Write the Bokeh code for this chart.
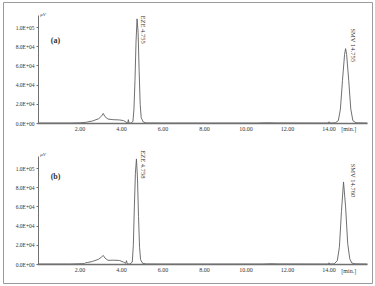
import math
from bokeh.plotting import figure
from bokeh.models import (Range1d, LinearAxis, FixedTicker, NumeralTickFormatter,
                          Label, ColumnDataSource)
from bokeh.core.properties import value
from bokeh.embed import file_html
from bokeh.resources import INLINE

# ---------------- data ----------------
time_a = [0.0, 1.5, 2.0, 2.3, 2.6, 2.9, 3.05, 3.12, 3.2, 3.35, 3.6, 3.9, 4.1, 4.22,
          4.3, 4.33, 4.36, 4.45, 4.55, 4.6, 4.65, 4.7, 4.75, 4.8, 4.85, 4.9, 4.95,
          5.05, 5.2, 6.0, 10.5, 11.0, 11.5, 13.95, 14.0, 14.05, 14.3, 14.45, 14.55,
          14.65, 14.75, 14.8, 14.85, 14.95, 15.05, 15.15, 15.3, 15.85]
signal_a = [500, 500, 700, 1300, 2600, 5000, 8000, 10500, 7200, 4600, 4000, 3700, 3000, 1400,
            400, 4000, 400, 400, 2000, 15000, 45000, 85000, 109000, 95000, 55000, 20000, 6000,
            1500, 600, 500, 500, 800, 600, 500, 1800, 500, 700, 3000, 15000,
            45000, 72000, 78000, 72000, 45000, 15000, 3000, 700, 500]

time_b = [0.0, 1.5, 2.22, 2.27, 2.35, 2.6, 2.9, 3.05, 3.12, 3.2, 3.35, 3.6, 3.9, 4.1,
          4.2, 4.24, 4.28, 4.4, 4.52, 4.57, 4.62, 4.67, 4.72, 4.77, 4.82, 4.87, 4.92,
          5.02, 5.2, 6.0, 10.8, 11.2, 11.6, 13.95, 14.0, 14.05, 14.25, 14.4, 14.5,
          14.6, 14.7, 14.8, 14.9, 15.0, 15.1, 15.25, 15.85]
signal_b = [500, 500, 900, 1800, 2000, 3200, 5500, 8000, 9500, 6800, 4300, 4500, 4200, 2500,
            1200, 4000, 600, 500, 2500, 20000, 60000, 95000, 110000, 90000, 50000, 18000, 5000,
            1200, 600, 500, 500, 800, 600, 500, 1800, 500, 700, 4000, 18000,
            55000, 86000, 60000, 22000, 6000, 1500, 700, 500]

x_ticks = [2, 4, 6, 8, 10, 12, 14]
y_ticks = [0, 20000, 40000, 60000, 80000, 100000]
y_tick_labels = ["0.0E+00", "2.0E+04", "4.0E+04", "6.0E+04", "8.0E+04", "1.0E+05"]

peak_labels_a = ["EZE 4.755", "SMV 14.755"]
peak_times_a = [5.06, 15.18]
peak_tops_a = [112500, 99000]
peak_labels_b = ["EZE 4.758", "SMV 14.760"]
peak_times_b = [5.06, 15.18]
peak_tops_b = [119000, 105000]

FONT = "Liberation Serif"
LINE = "#606060"
AX = "#707070"
TXT = "#333333"

# ---------------- figure ----------------
px_per_min = 20.75
x0 = -(38 - 3) / px_per_min
x1 = x0 + 369 / px_per_min
px_per_unit = 96 / 100000.0
ya = Range1d((123 - 283) / px_per_unit, (123 - 2) / px_per_unit)
yb = Range1d((264 - 283) / px_per_unit, (264 - 2) / px_per_unit)

p = figure(width=375, height=286, output_backend="svg", toolbar_location=None,
           x_range=Range1d(x0, x1), y_range=ya,
           x_axis_location=None, y_axis_location=None,
           min_border_left=3, min_border_right=3, min_border_top=2, min_border_bottom=3,
           background_fill_color="white", border_fill_color="white")
p.extra_y_ranges = {"b": yb}
p.outline_line_color = "#9a9a9a"
p.outline_line_width = 1
p.grid.visible = False


def add_axes(rname):
    kw = {} if rname is None else {"y_range_name": rname}
    xa = LinearAxis(fixed_location=0, ticker=FixedTicker(ticks=x_ticks),
                    formatter=NumeralTickFormatter(format="0.00"), bounds=(-0.05, 15.85), **kw)
    xa.axis_line_color = AX
    xa.axis_line_width = 1.5
    xa.major_tick_line_color = AX
    xa.major_tick_in = 0
    xa.major_tick_out = 0
    xa.minor_tick_line_color = None
    xa.major_label_standoff = 3
    xa.major_label_text_font = FONT
    xa.major_label_text_font_size = "6px"
    xa.major_label_text_color = TXT
    p.add_layout(xa, "below")

    ya_ = LinearAxis(fixed_location=0, ticker=FixedTicker(ticks=y_ticks),
                     bounds=(0, 112500), **kw)
    ya_.major_label_overrides = {t: s for t, s in zip(y_ticks, y_tick_labels)}
    ya_.axis_line_color = AX
    ya_.axis_line_width = 1
    ya_.major_tick_line_color = AX
    ya_.major_tick_in = 0
    ya_.major_tick_out = 2
    ya_.minor_tick_line_color = None
    ya_.major_label_standoff = 2
    ya_.major_label_text_font = FONT
    ya_.major_label_text_font_size = "5.5px"
    ya_.major_label_text_color = TXT
    p.add_layout(ya_, "left")


add_axes(None)
add_axes("b")

p.line(time_a, signal_a, line_color=LINE, line_width=0.9)
p.line(time_b, signal_b, line_color=LINE, line_width=0.9, y_range_name="b")

src_a = ColumnDataSource(dict(x=peak_times_a, y=peak_tops_a, t=peak_labels_a))
src_b = ColumnDataSource(dict(x=peak_times_b, y=peak_tops_b, t=peak_labels_b))
for src, rn in ((src_a, "default"), (src_b, "b")):
    p.text("x", "y", text="t", source=src, angle=-math.pi / 2, text_align="left",
           text_baseline="middle", text_font=value(FONT), text_font_size="6.5px",
           text_color=TXT, y_range_name=rn)

for txt, y, rn in (("(a)", 86500, "default"), ("(b)", 91700, "b")):
    p.add_layout(Label(x=0.82, y=y, text=txt, y_range_name=rn, text_align="center",
                       text_baseline="middle", text_font=FONT, text_font_size="8px",
                       text_font_style="bold", text_color=TXT))
for y, rn in ((113500, "default"), (114600, "b")):
    p.add_layout(Label(x=0.08, y=y, text="μV", y_range_name=rn, text_align="left",
                       text_baseline="middle", text_font=FONT, text_font_size="5px",
                       text_font_style="italic", text_color=TXT))
for y, rn in ((-5400, "default"), (-6300, "b")):
    p.add_layout(Label(x=14.95, y=y, text="[min.]", y_range_name=rn, text_align="center",
                       text_baseline="middle", text_font=FONT, text_font_size="6px",
                       text_color=TXT))

open("out.html", "w").write(file_html(p, INLINE))
